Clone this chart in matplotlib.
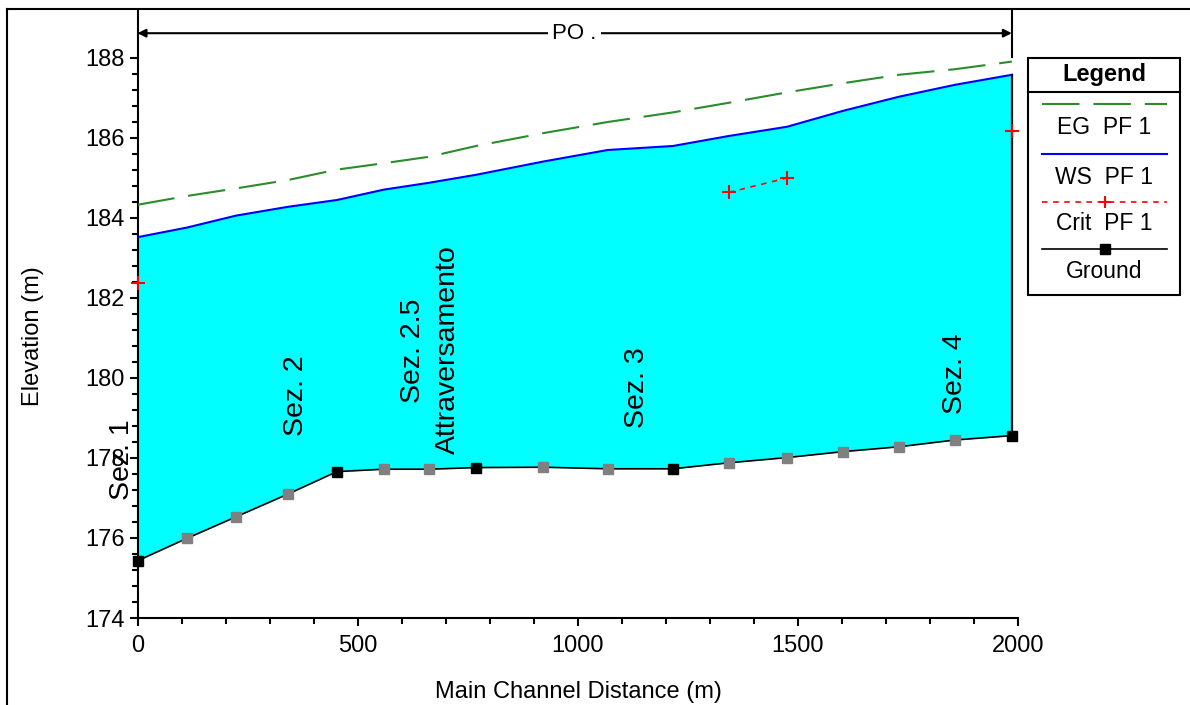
import numpy as np
import matplotlib
matplotlib.use('Agg')
import matplotlib.pyplot as plt
from matplotlib.ticker import FixedLocator
from matplotlib.patches import Rectangle
from matplotlib.lines import Line2D

plt.rcParams['font.family'] = ['Liberation Sans', 'DejaVu Sans']
plt.rcParams['lines.scale_dashes'] = False

# ---------------- data ----------------
station = [0, 112, 224, 342, 453, 560, 662, 769, 921, 1068, 1216,
           1343, 1475, 1603, 1729, 1857, 1986]
is_section = [1, 0, 0, 0, 1, 0, 0, 1, 0, 0, 1, 0, 0, 0, 0, 0, 1]
ground = [175.43, 175.99, 176.53, 177.10, 177.66, 177.72, 177.72, 177.76,
          177.77, 177.73, 177.73, 177.88, 178.01, 178.16, 178.28, 178.45, 178.56]
ws = [183.52, 183.76, 184.06, 184.28, 184.45, 184.71, 184.88, 185.08,
      185.41, 185.70, 185.80, 186.05, 186.28, 186.68, 187.03, 187.33, 187.58]
eg = [184.33, 184.55, 184.74, 184.95, 185.21, 185.37, 185.53, 185.80,
      186.12, 186.40, 186.64, 186.88, 187.14, 187.37, 187.58, 187.72, 187.91]
nan = np.nan
crit = [182.38, nan, nan, nan, nan, nan, nan, nan, nan, nan, nan,
        184.64, 185.00, nan, nan, nan, 186.18]

section_labels = ["Sez. 1", "Sez. 2", "Sez. 2.5", "Attraversamento", "Sez. 3", "Sez. 4"]
label_x = [-35, 360, 626, 705, 1135, 1857]
label_y = [177.95, 179.55, 180.68, 180.70, 179.75, 180.10]

reach_name = "PO ."
legend_labels = ["EG  PF 1", "WS  PF 1", "Crit  PF 1", "Ground"]

x_major = [0, 500, 1000, 1500, 2000]
y_major = [174, 176, 178, 180, 182, 184, 186, 188]

# ---------------- figure ----------------
W, H = 1190, 705
fig = plt.figure(figsize=(W / 100, H / 100), dpi=100)


def fx(x):
    return x / W


def fy(y):
    return 1 - y / H


ax = fig.add_axes([fx(137.5), fy(618), (1018 - 137.5) / W, 608 / H])
ax.set_xlim(0, 2000)
ax.set_ylim(174, 189.2)
for s in ['top', 'right']:
    ax.spines[s].set_visible(False)
for s in ['left', 'bottom']:
    ax.spines[s].set_linewidth(1.5)

ax.xaxis.set_major_locator(FixedLocator(x_major))
ax.xaxis.set_minor_locator(FixedLocator(np.arange(0, 2001, 100)))
ax.yaxis.set_major_locator(FixedLocator(y_major))
ax.yaxis.set_minor_locator(FixedLocator(np.arange(174, 188.01, 0.4)))
ax.tick_params(which='major', length=6, width=1.5, labelsize=17, pad=6)
ax.tick_params(which='minor', length=4, width=1.5)
ax.tick_params(axis='y', which='major', pad=3)

st = np.array(station, dtype=float)
gr = np.array(ground)
ax.fill_between(st, gr, ws, color='#00FFFF', lw=0, zorder=1)
ax.plot(st, eg, color='#2a8c2a', lw=1.5, ls=(0, (27, 10)), zorder=3)
ax.plot(st, ws, color='#0000FF', lw=1.5, zorder=3)
ax.plot([st[-1], st[-1]], [ground[-1], ws[-1]], color='black', lw=1.6, zorder=3)
ax.plot(st, crit, color='#FF0000', lw=1.2, ls=(0, (4, 4)), marker='+', ms=10,
        mew=1.5, zorder=4, clip_on=False)
ax.plot(st, gr, color='black', lw=1.2, zorder=4)
sec = np.array(is_section, dtype=bool)
ax.plot(st[~sec], gr[~sec], ls='none', marker='s', ms=7.5, color='#808080', zorder=5)
ax.plot(st[sec], gr[sec], ls='none', marker='s', ms=7.5, color='black', zorder=6,
        clip_on=False)

for t, x, y in zip(section_labels, label_x, label_y):
    ax.text(x, y, t, rotation=90, ha='center', va='center', fontsize=20.5,
            color='black', zorder=7, clip_on=False)

# reach marker
y_reach = 188.62
ax.annotate('', xy=(0, y_reach), xytext=(st[-1], y_reach),
            arrowprops=dict(arrowstyle='<|-|>', color='black', lw=1.5,
                            mutation_scale=12, shrinkA=0, shrinkB=0),
            annotation_clip=False, zorder=6)
ax.text(st[-1] / 2, y_reach, reach_name, ha='center', va='center', fontsize=16,
        bbox=dict(facecolor='white', edgecolor='none', pad=3), zorder=7)
ax.plot([st[-1], st[-1]], [188.03, 189.2], color='black', lw=1.5, clip_on=False)

# axis labels
fig.text(fx(578), fy(692), "Main Channel Distance (m)", ha='center', va='center',
         fontsize=17)
fig.text(fx(33), fy(336), "Elevation (m)", ha='center', va='center',
         rotation=90, fontsize=17)

# outer border (top & left)
fig.add_artist(Line2D([fx(7), fx(7)], [fy(9), 0], transform=fig.transFigure,
                      color='black', lw=1.5))
fig.add_artist(Line2D([fx(7), 1], [fy(9), fy(9)], transform=fig.transFigure,
                      color='black', lw=1.5))

# legend box
lx0, lx1, ly0, ly1 = 1028, 1180, 58, 295
fig.add_artist(Rectangle((fx(lx0), fy(ly1)), (lx1 - lx0) / W, (ly1 - ly0) / H,
                         transform=fig.transFigure, facecolor='white',
                         edgecolor='black', lw=1.5))
fig.add_artist(Line2D([fx(lx0), fx(lx1)], [fy(92), fy(92)], transform=fig.transFigure,
                      color='black', lw=1.5))
fig.text(fx(1104), fy(74), "Legend", ha='center', va='center', fontsize=17,
         fontweight='bold')
sx0, sx1, sxm = 1042, 1167, 1104.5
line_ys = [104, 154, 202, 249]
text_ys = [128, 177, 224, 271]
fig.add_artist(Line2D([fx(sx0), fx(sx1)], [fy(line_ys[0])] * 2, transform=fig.transFigure,
                      color='#2a8c2a', lw=1.5, ls=(0, (27, 10))))
fig.add_artist(Line2D([fx(sx0), fx(sx1)], [fy(line_ys[1])] * 2, transform=fig.transFigure,
                      color='#0000FF', lw=1.5))
fig.add_artist(Line2D([fx(sx0), fx(sx1)], [fy(line_ys[2])] * 2, transform=fig.transFigure,
                      color='#FF0000', lw=1.2, ls=(0, (4, 4))))
fig.add_artist(Line2D([fx(sxm)], [fy(line_ys[2])], transform=fig.transFigure,
                      color='#FF0000', marker='+', ms=9, mew=1.5, ls='none'))
fig.add_artist(Line2D([fx(sx0), fx(sx1)], [fy(line_ys[3])] * 2, transform=fig.transFigure,
                      color='black', lw=1.2))
fig.add_artist(Line2D([fx(sxm)], [fy(line_ys[3])], transform=fig.transFigure,
                      color='black', marker='s', ms=7.5, ls='none'))
for t, y in zip(legend_labels, text_ys):
    fig.text(fx(1104), fy(y), t, ha='center', va='center', fontsize=16.5)

fig.savefig('out.png', dpi=100)
